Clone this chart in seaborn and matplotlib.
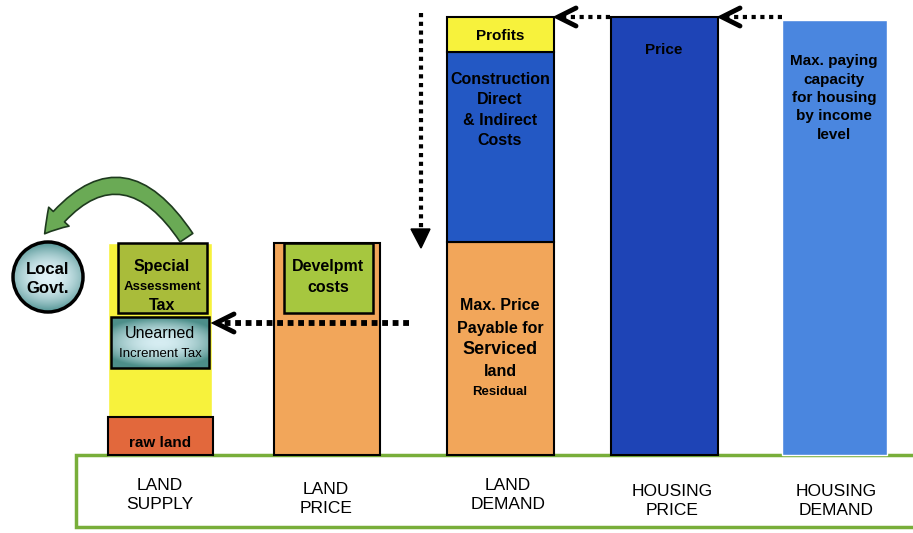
import numpy as np
import matplotlib.pyplot as plt
import seaborn as sns
from matplotlib.patches import Rectangle, Circle, FancyArrowPatch

sns.set_style("white")
plt.rcParams['font.family'] = ['Liberation Sans Narrow', 'Liberation Sans', 'DejaVu Sans']
plt.rcParams['text.color'] = 'black'

# stages along the bottom
stages = ["LAND\nSUPPLY", "LAND\nPRICE", "LAND\nDEMAND", "HOUSING\nPRICE", "HOUSING\nDEMAND"]
stage_x = [160, 327, 500, 664, 834]
stage_w = [104, 106, 107, 107, 105]

# bar heights (arbitrary units, baseline = 0)
land_supply_total = 212
raw_land = 38
unearned_tax = [87, 138]        # bottom, top
special_tax = [142, 212]
land_price_total = 212
devel_costs = [142, 212]
residual_land = 213
construction = 190
profits = 35
housing_price = 438
housing_demand = 435

fig = plt.figure(figsize=(9.13, 5.33), dpi=100)
ax = fig.add_axes([0, 0, 1, 1])
ax.set_xlim(0, 913)
ax.set_ylim(-78, 455)
ax.axis("off")

def py(y):
    # pixel row -> data y
    return 455 - y

def gradient_fill(patch, light, dark):
    # radial-ish shading clipped to a patch
    ax.add_patch(patch)
    bb = patch.get_extents().transformed(ax.transData.inverted())
    gx, gy = np.meshgrid(np.linspace(-1, 1, 60), np.linspace(-1, 1, 60))
    r = np.clip(np.sqrt(gx ** 2 * 0.6 + gy ** 2), 0, 1) ** 2
    cols = np.array(light)[None, None, :] * (1 - r[..., None]) + np.array(dark)[None, None, :] * r[..., None]
    im = ax.imshow(cols, extent=[bb.x0, bb.x1, bb.y0, bb.y1], aspect="auto", zorder=patch.get_zorder(),
                   interpolation="bilinear")
    im.set_clip_path(patch)

# green base box with stage labels
ax.add_patch(Rectangle((76, -72), 850, 72, facecolor="white", edgecolor="#78AE3A", lw=2.5, zorder=1))
label_x = [160, 326, 508, 672, 836]
label_y = [495, 499, 495, 501, 501]
for lx, ly, s in zip(label_x, label_y, stages):
    ax.text(lx, py(ly), s, ha="center", va="center", fontsize=12.5, linespacing=1.35)

# LAND SUPPLY
x0 = stage_x[0]
ax.bar(x0, land_supply_total, width=stage_w[0], color="#F7F23C", zorder=2)
ax.bar(x0, raw_land, width=105, color="#E2683C", edgecolor="black", lw=1.5, zorder=3)
ax.bar(x0 + 2, special_tax[1] - special_tax[0], bottom=special_tax[0], width=89,
       color="#A9BC3A", edgecolor="black", lw=1.8, zorder=3)
ub = Rectangle((x0 - 49, unearned_tax[0]), 98, unearned_tax[1] - unearned_tax[0], facecolor="none",
               edgecolor="black", lw=1.8, zorder=3)
gradient_fill(Rectangle((x0 - 49, unearned_tax[0]), 98, unearned_tax[1] - unearned_tax[0],
                        facecolor="none", edgecolor="none", zorder=3),
              [0.84, 0.93, 0.95], [0.30, 0.56, 0.54])
ax.add_patch(ub)
ax.text(x0, py(443), "raw land", ha="center", va="center", fontsize=11, fontweight="bold", zorder=4)
ax.text(x0 + 2, py(267), "Special", ha="center", va="center", fontsize=11.5, fontweight="bold", zorder=4)
ax.text(x0 + 2, py(287), "Assessment", ha="center", va="center", fontsize=9.5, fontweight="bold", zorder=4)
ax.text(x0 + 2, py(306), "Tax", ha="center", va="center", fontsize=11.5, fontweight="bold", zorder=4)
ax.text(x0, py(334), "Unearned", ha="center", va="center", fontsize=11.5, zorder=4)
ax.text(x0, py(354), "Increment Tax", ha="center", va="center", fontsize=9.5, zorder=4)

# LAND PRICE
x1 = stage_x[1]
ax.bar(x1, land_price_total, width=stage_w[1], color="#F2A65A", edgecolor="black", lw=1.5, zorder=2)
ax.bar(x1 + 1, devel_costs[1] - devel_costs[0], bottom=devel_costs[0], width=89,
       color="#A6C73F", edgecolor="black", lw=1.8, zorder=3)
ax.text(x1 + 1, py(266), "Develpmt", ha="center", va="center", fontsize=11.5, fontweight="bold", zorder=4)
ax.text(x1 + 1, py(288), "costs", ha="center", va="center", fontsize=11.5, fontweight="bold", zorder=4)

# LAND DEMAND
x2 = stage_x[2]
ax.bar(x2, residual_land, width=stage_w[2], color="#F2A65A", edgecolor="black", lw=1.5, zorder=2)
ax.bar(x2, construction, bottom=residual_land, width=stage_w[2], color="#2358C4",
       edgecolor="black", lw=1.5, zorder=2)
ax.bar(x2, profits, bottom=residual_land + construction, width=stage_w[2], color="#F7F23C",
       edgecolor="black", lw=1.5, zorder=2)
ax.text(x2, py(36), "Profits", ha="center", va="center", fontsize=11, fontweight="bold", zorder=4)
ax.text(x2, py(110), "Construction\nDirect\n& Indirect\nCosts", ha="center", va="center",
        fontsize=11.5, fontweight="bold", linespacing=1.45, zorder=4)
ax.text(x2, py(306), "Max. Price", ha="center", va="center", fontsize=11.5, fontweight="bold", zorder=4)
ax.text(x2, py(328), "Payable for", ha="center", va="center", fontsize=11.5, fontweight="bold", zorder=4)
ax.text(x2, py(350), "Serviced", ha="center", va="center", fontsize=13, fontweight="bold", zorder=4)
ax.text(x2, py(372), "land", ha="center", va="center", fontsize=11.5, fontweight="bold", zorder=4)
ax.text(x2, py(392), "Residual", ha="center", va="center", fontsize=9.5, fontweight="bold", zorder=4)

# HOUSING PRICE
x3 = stage_x[3]
ax.bar(x3, housing_price, width=stage_w[3], color="#1E44B6", edgecolor="black", lw=1.5, zorder=2)
ax.text(x3, py(50), "Price", ha="center", va="center", fontsize=11, fontweight="bold", zorder=4)

# HOUSING DEMAND
x4 = stage_x[4]
ax.bar(x4, housing_demand, width=stage_w[4], color="#4A86DF", zorder=2)
ax.text(x4, py(98), "Max. paying\ncapacity\nfor housing\nby income\nlevel", ha="center",
        va="center", fontsize=11, fontweight="bold", linespacing=1.4, zorder=4)

# dotted arrows
dot = dict(color="black", lw=3, linestyle=(0, (1, 1.1)), solid_capstyle="butt", zorder=5)
def chevron(x, y):
    ax.plot([x + 18, x, x + 18], [py(y - 9), py(y), py(y + 9)], color="black", lw=3.5,
            solid_capstyle="round", solid_joinstyle="miter", zorder=6)

ax.plot([782, 726], [py(17), py(17)], **dot)
chevron(722, 17)
ax.plot([610, 562], [py(17), py(17)], **dot)
chevron(558, 17)
ax.plot([409, 222], [py(323), py(323)], color="black", lw=4.2, linestyle=(0, (1, 0.8)), zorder=5)
chevron(216, 323)
ax.plot([421, 421], [py(13), py(228)], **dot)
ax.add_patch(plt.Polygon([[411, py(229)], [430, py(229)], [421, py(248)]], color="black", zorder=6))

# Local Govt. circle
gradient_fill(Circle((48, py(277)), 35, facecolor="none", edgecolor="none", zorder=3),
              [0.88, 0.95, 0.97], [0.32, 0.58, 0.58])
ax.add_patch(Circle((48, py(277)), 35, facecolor="none", edgecolor="black", lw=2.5, zorder=4))
ax.text(48, py(279), "Local\nGovt.", ha="center", va="center", fontsize=12, fontweight="bold",
        linespacing=1.3, zorder=5)

# curved green arrow to local government
arr = FancyArrowPatch((188, py(240)), (43, py(236)), connectionstyle="arc3,rad=0.72",
                      arrowstyle="simple,head_width=20,head_length=16,tail_width=11",
                      facecolor="#6AAA55", edgecolor="#1E3A1E", lw=1.2, zorder=4)
ax.add_patch(arr)

ax.set_xlim(0, 913)
ax.set_ylim(-78, 455)
fig.savefig("out.png", dpi=100)
